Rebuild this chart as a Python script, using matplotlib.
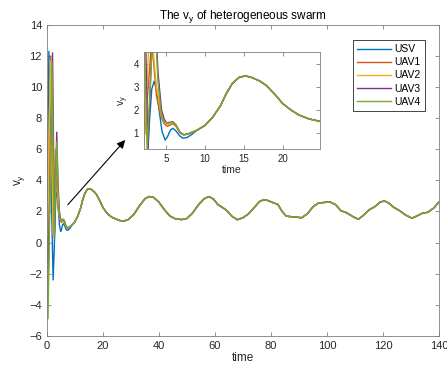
import matplotlib
matplotlib.use("Agg")
import matplotlib.pyplot as plt

plt.rcParams['font.family'] = ['Liberation Sans', 'DejaVu Sans']

names = ["USV", "UAV1", "UAV2", "UAV3", "UAV4"]
colors = ["#0072BD", "#D95319", "#EDB120", "#7E2F8E", "#77AC30"]

# early transient of each agent (time, v_y)
head_t = {
    "USV":  [0, 0.3, 0.7, 1.2, 1.7, 2.2, 2.6, 2.9, 3.2, 3.5, 3.8, 4.1, 4.5, 4.9, 5.2, 5.6,
             5.9, 6.3, 6.8, 7.2, 7.7, 8.3],
    "UAV1": [0, 0.3, 1.3, 2.3, 3.2, 3.8, 4.4, 4.8, 5.2, 5.9, 6.3, 6.8, 7.3, 8.0, 8.5],
    "UAV2": [0, 0.3, 1.2, 2.2, 3.0, 3.8, 4.4, 4.8, 5.2, 5.9, 6.3, 6.8, 7.3, 8.0, 8.5],
    "UAV3": [0, 0.4, 2.0, 2.7, 3.5, 4.0, 4.45, 4.8, 5.1, 5.9, 6.3, 6.8, 7.3, 8.0, 8.5],
    "UAV4": [0, 0.4, 1.8, 2.6, 3.5, 4.0, 4.4, 4.8, 5.3, 5.85, 6.3, 6.8, 7.3, 8.0, 8.5],
}
head_y = {
    "USV":  [0, 6.0, 12.3, 8.0, 2.0, -2.4, -0.5, 1.5, 2.9, 3.24, 2.9, 2.1, 1.1, 0.71, 0.85,
             1.15, 1.22, 1.1, 0.88, 0.79, 0.82, 0.95],
    "UAV1": [0, -2.0, 12.0, 1.0, 5.0, 2.6, 1.7, 1.4, 1.3, 1.42, 1.3, 1.02, 0.93, 0.99, 1.06],
    "UAV2": [0.5, 0.8, 11.7, 0.5, 6.0, 3.0, 1.8, 1.48, 1.38, 1.48, 1.33, 1.04, 0.94, 1.0, 1.07],
    "UAV3": [0, -3.0, 12.2, 0.3, 7.1, 3.6, 2.0, 1.6, 1.45, 1.5, 1.36, 1.05, 0.94, 1.0, 1.07],
    "UAV4": [-1.3, -4.9, 11.6, 0.3, 6.5, 3.2, 1.8, 1.5, 1.43, 1.5, 1.35, 1.05, 0.93, 1.0, 1.07],
}

# common response after the transient
tail_t = [9, 10, 11, 12, 12.7, 13.5, 14.4, 15.2, 16, 17, 17.8, 19, 19.9, 21, 22, 23.3, 24.5,
          26, 27.4, 29, 31, 33, 35, 36.5, 38, 40, 42, 44, 46, 48.2, 50, 52, 54, 56, 57.8,
          59.5, 61, 62.5, 64, 66, 68, 70, 72, 74, 76, 77.5, 79, 81, 82.5, 84, 85.5, 88, 91,
          93, 95, 97, 99, 101, 103, 105, 107, 109, 111.2, 113, 115, 117, 119, 120.5, 122, 124,
          126, 128, 130.4, 132, 134, 136, 138, 140]
tail_y = [1.14, 1.34, 1.7, 2.2, 2.7, 3.15, 3.42, 3.47, 3.4, 3.25, 3.07, 2.65, 2.29, 2.0, 1.79,
          1.62, 1.53, 1.42, 1.38, 1.48, 1.8, 2.35, 2.82, 2.96, 2.92, 2.6, 2.1, 1.7, 1.52, 1.48,
          1.55, 1.9, 2.4, 2.8, 2.96, 2.8, 2.45, 2.28, 2.1, 1.7, 1.47, 1.6, 1.85, 2.25, 2.65,
          2.76, 2.7, 2.55, 2.45, 2.0, 1.7, 1.65, 1.6, 1.85, 2.3, 2.55, 2.58, 2.62, 2.45, 2.05,
          1.92, 1.7, 1.5, 1.75, 2.1, 2.3, 2.6, 2.68, 2.55, 2.25, 2.05, 1.78, 1.57, 1.7, 1.88,
          1.95, 2.2, 2.6]

gray = "#262626"
spine = "#7f7f7f"


def style(ax, fs):
    for s in ax.spines.values():
        s.set_color(spine)
        s.set_linewidth(0.6)
    ax.tick_params(direction='in', top=True, right=True, length=3, width=0.6,
                   colors=spine, labelcolor=gray, labelsize=fs)


fig = plt.figure(figsize=(4.47, 3.77), dpi=100)
ax = fig.add_axes([0.105, 0.109, 0.877, 0.825])
for n, c in zip(names, colors):
    ax.plot(head_t[n] + tail_t, head_y[n] + tail_y, color=c, lw=1.0, label=n)
ax.set_xlim(0, 140)
ax.set_ylim(-6, 14)
ax.set_xticks(range(0, 141, 20))
ax.set_yticks(range(-6, 15, 2))
style(ax, 8)
ax.set_xlabel('time', fontsize=8.5, color=gray, labelpad=1)
ax.set_ylabel(r'$\mathregular{v_y}$', fontsize=8.5, color=gray, labelpad=2)
ax.set_title(r'The $\mathregular{v_y}$ of heterogeneous swarm', fontsize=8.5, color='black', pad=4)

leg = ax.legend(loc='upper right', bbox_to_anchor=(0.978, 0.968), fontsize=7.5,
                handlelength=3.2, handletextpad=0.4, labelspacing=0.3, borderpad=0.4,
                fancybox=False, framealpha=1)
leg.get_frame().set_edgecolor(gray)
leg.get_frame().set_linewidth(0.6)

ax.annotate('', xy=(28.6, 6.73), xytext=(6.8, 2.3),
            arrowprops=dict(arrowstyle='-|>', color='black', lw=0.8, mutation_scale=12))

ins = fig.add_axes([0.322, 0.605, 0.394, 0.257])
for n, c in zip(names, colors):
    ins.plot(head_t[n] + tail_t, head_y[n] + tail_y, color=c, lw=1.0)
ins.set_xlim(2.2, 24.7)
ins.set_ylim(0.33, 4.5)
ins.set_xticks([5, 10, 15, 20])
ins.set_yticks([1, 2, 3, 4])
style(ins, 7)
ins.set_xlabel('time', fontsize=7.5, color=gray, labelpad=1)
ins.set_ylabel(r'$\mathregular{v_y}$', fontsize=7.5, color=gray, labelpad=2)

fig.savefig('out.png', dpi=100)
